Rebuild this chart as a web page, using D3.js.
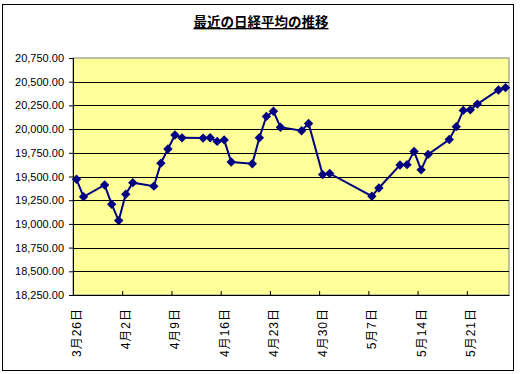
<!DOCTYPE html>
<html>
<head>
<meta charset="utf-8">
<script src="https://cdn.jsdelivr.net/npm/d3@7"></script>
<style>
  body { margin: 0; background: #fff; }
  svg { display: block; }
  text { font-family: "Liberation Sans", Arial, "Noto Sans CJK JP", sans-serif; }
</style>
</head>
<body>
<script>
// 日付 (2015年) と終値
var dates = [
  "2015-03-26","2015-03-27","2015-03-30","2015-03-31","2015-04-01","2015-04-02","2015-04-03",
  "2015-04-06","2015-04-07","2015-04-08","2015-04-09","2015-04-10",
  "2015-04-13","2015-04-14","2015-04-15","2015-04-16","2015-04-17",
  "2015-04-20","2015-04-21","2015-04-22","2015-04-23","2015-04-24",
  "2015-04-27","2015-04-28","2015-04-30","2015-05-01",
  "2015-05-07","2015-05-08",
  "2015-05-11","2015-05-12","2015-05-13","2015-05-14","2015-05-15",
  "2015-05-18","2015-05-19","2015-05-20","2015-05-21","2015-05-22",
  "2015-05-25","2015-05-26"
];
var closes = [
  19471, 19286, 19411, 19207, 19035, 19313, 19435,
  19398, 19641, 19790, 19938, 19908,
  19905, 19909, 19870, 19886, 19653,
  19634, 19909, 20134, 20188, 20020,
  19983, 20059, 19520, 19532,
  19292, 19379,
  19621, 19625, 19765, 19570, 19733,
  19890, 20026, 20197, 20203, 20264,
  20413, 20437
];
var yTicks = [18250, 18500, 18750, 19000, 19250, 19500, 19750, 20000, 20250, 20500, 20750];
var xTickDates = ["2015-03-26","2015-04-02","2015-04-09","2015-04-16","2015-04-23","2015-04-30","2015-05-07","2015-05-14","2015-05-21"];
var title = "最近の日経平均の推移";

var W = 522, H = 374;
var plot = {left: 73, right: 509, top: 58, bottom: 295};

function parse(s) {
  var p = s.split("-");
  return new Date(+p[0], +p[1] - 1, +p[2]);
}
var DAY = 864e5;

var data = dates.map(function(d, i) { return {date: parse(d), value: closes[i]}; });

var svg = d3.select("body").append("svg")
  .attr("width", W)
  .attr("height", H);

// 外枠
svg.append("rect")
  .attr("x", 2.5).attr("y", 4.5)
  .attr("width", 511).attr("height", 366)
  .attr("fill", "#fff")
  .attr("stroke", "#000")
  .attr("stroke-width", 1);

// 軸の設定
var x = d3.scaleTime()
  .domain([parse("2015-03-26"), parse("2015-05-27")])
  .range([plot.left, plot.right]);
var y = d3.scaleLinear()
  .domain([18250, 20750])
  .range([plot.bottom, plot.top]);

// プロットエリア
svg.append("rect")
  .attr("x", plot.left).attr("y", plot.top)
  .attr("width", plot.right - plot.left)
  .attr("height", plot.bottom - plot.top)
  .attr("fill", "#FFFF99")
  .attr("stroke", "#808080")
  .attr("stroke-width", 1);

// 目盛線
svg.append("g")
  .selectAll("line")
  .data(yTicks.slice(1, -1))
  .join("line")
  .attr("x1", plot.left).attr("x2", plot.right)
  .attr("y1", function(d) { return Math.round(y(d)) + 0.5; })
  .attr("y2", function(d) { return Math.round(y(d)) + 0.5; })
  .attr("stroke", "#000");

// Y軸
var yAxis = d3.axisLeft(y)
  .tickValues(yTicks)
  .tickSize(4)
  .tickFormat(function(d) { return d3.format(",.2f")(d); });
var gy = svg.append("g")
  .attr("transform", "translate(" + plot.left + ",0)")
  .call(yAxis);
gy.select(".domain").attr("stroke", "#000");
gy.selectAll(".tick line").attr("stroke", "#000");
gy.selectAll(".tick text")
  .attr("x", -9)
  .attr("font-size", 11)
  .attr("fill", "#000")
  .style("font-family", "'Liberation Sans', Arial, sans-serif");

// X軸
var xAxis = d3.axisBottom(x)
  .tickValues(xTickDates.map(parse))
  .tickSizeInner(-4)
  .tickSizeOuter(0)
  .tickFormat(function(d) { return (d.getMonth() + 1) + "月" + d.getDate() + "日"; });
var gx = svg.append("g")
  .attr("transform", "translate(0," + plot.bottom + ")")
  .call(xAxis);
gx.select(".domain").attr("stroke", "#000");
gx.selectAll(".tick line").attr("stroke", "#000");
gx.selectAll(".tick text")
  .attr("y", 0)
  .attr("dy", 0)
  .attr("text-anchor", "end")
  .attr("dominant-baseline", "central")
  .attr("transform", "translate(" + (x(parse("2015-03-27")) - x(parse("2015-03-26"))) / 2 + ",13) rotate(-90)")
  .attr("font-size", 12)
  .attr("letter-spacing", 1)
  .attr("fill", "#000")
  .style("font-family", "'Liberation Sans', Arial, 'Noto Sans CJK JP', sans-serif");

// 折れ線
var cx = function(d) { return x(new Date(d.date.getTime() + DAY / 2)); };
var line = d3.line()
  .x(cx)
  .y(function(d) { return y(d.value); });

svg.append("path")
  .datum(data)
  .attr("d", line)
  .attr("fill", "none")
  .attr("stroke", "#000080")
  .attr("stroke-width", 2);

// マーカー
svg.append("g")
  .selectAll("path")
  .data(data)
  .join("path")
  .attr("d", d3.symbol(d3.symbolSquare, 44))
  .attr("transform", function(d) { return "translate(" + cx(d) + "," + y(d.value) + ") rotate(45)"; })
  .attr("fill", "#000080");

// 表題
svg.append("text")
  .attr("x", 261)
  .attr("y", 27)
  .attr("text-anchor", "middle")
  .attr("font-size", 13.5)
  .attr("font-weight", "bold")
  .attr("text-decoration", "underline")
  .style("font-family", "'Noto Sans CJK JP', sans-serif")
  .text(title);
</script>
</body>
</html>
